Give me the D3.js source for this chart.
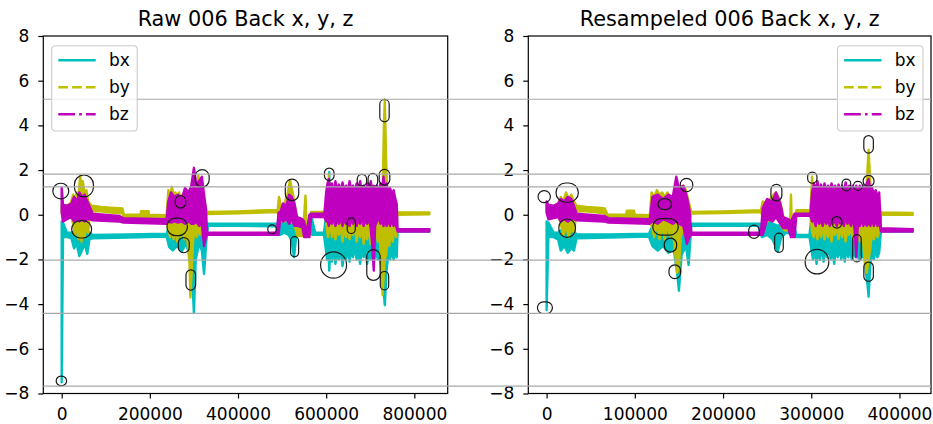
<!DOCTYPE html>
<html>
<head>
<meta charset="utf-8">
<script src="https://cdn.jsdelivr.net/npm/d3@7"></script>
<style>
body { margin: 0; background: #fff; }
svg { display: block; font-family: "DejaVu Sans", sans-serif; }
</style>
</head>
<body>
<svg width="933" height="424"></svg>
<script>
// values: [x, low, high] envelopes of each noisy trace
const rawBx = [
    [0, -7.5, -0.3], [3000, -1.0, -0.35], [12000, -1.0, -0.8], [22000, -1.05, -0.8],
    [28000, -1.5, -0.75], [34000, -1.3, -0.7], [40000, -1.85, -0.6], [46000, -1.6, -0.6],
    [52000, -1.3, -0.7], [58000, -1.75, -0.75], [63000, -1.1, -0.8], [70000, -1.05, -0.9],
    [150000, -1.02, -0.88], [238000, -0.98, -0.85], [244000, -1.45, -0.5], [252000, -1.6, -0.5],
    [262000, -1.4, -0.45], [272000, -1.65, -0.5], [282000, -1.3, -0.5], [290000, -1.8, -0.5],
    [296000, -2.8, -0.5], [300000, -4.4, -0.6], [304000, -2.0, -0.5], [312000, -1.3, -0.5],
    [318000, -1.6, -0.6], [323000, -2.65, -0.6], [328000, -1.2, -0.45], [332000, -0.5, -0.4],
    [400000, -0.5, -0.4], [490000, -0.52, -0.4], [495000, -0.9, -0.4], [505000, -0.8, -0.3],
    [515000, -0.9, -0.4], [522000, -1.2, -0.4], [527000, -1.9, -0.5], [532000, -1.0, -0.4],
    [545000, -0.8, -0.3], [560000, -0.7, -0.3], [568000, -0.9, -0.2], [575000, -0.9, -0.8],
    [595000, -0.9, -0.8], [599000, -1.5, -0.2], [602000, -2.0, -0.4], [605000, -1.4, -0.4],
    [607000, -2.5, 1.9], [609000, -1.6, -0.4], [613000, -2.1, -0.5], [617000, -1.5, -0.5],
    [621000, -2.2, -0.5], [625000, -1.6, -0.5], [629000, -2.0, -0.5], [633000, -1.4, -0.5],
    [637000, -2.3, -0.5], [641000, -1.7, -0.5], [645000, -2.0, -0.5], [649000, -1.5, -0.5],
    [653000, -2.1, -0.5], [657000, -1.6, -0.5], [661000, -1.9, -0.5], [665000, -1.4, -0.5],
    [669000, -2.0, -0.5], [673000, -1.7, -0.5], [677000, -2.2, -0.5], [681000, -1.5, -0.5],
    [685000, -1.9, -0.5], [689000, -1.6, -0.5], [693000, -2.2, -0.5], [697000, -1.7, -0.5],
    [701000, -2.0, -0.5], [705000, -1.5, -0.5], [709000, -2.0, -0.5], [713000, -1.6, -0.5],
    [717000, -2.0, -0.5], [721000, -1.7, -0.5], [725000, -2.4, -0.5], [729000, -3.0, -0.5],
    [733000, -4.05, -0.5], [737000, -2.5, -0.6], [741000, -1.8, -0.5], [745000, -2.0, -0.6],
    [749000, -1.6, -0.5], [753000, -2.0, -0.6], [757000, -1.7, -0.6], [760000, -1.9, -0.6],
    [762000, -0.75, -0.65], [834000, -0.75, -0.65]
];
const rawBy = [
    [0, 0.1, 0.4], [10000, 0.15, 0.4], [20000, 0.05, 0.5], [26000, -0.4, 0.9],
    [30000, -0.9, 0.7], [34000, -0.5, 1.0], [38000, -1.1, 0.8], [42000, -0.6, 1.75],
    [45000, -1.2, 1.2], [48000, -0.6, 1.5], [52000, -1.0, 0.9], [56000, -0.5, 1.1],
    [60000, -0.8, 0.6], [64000, 0.0, 0.5], [68000, 0.15, 0.4], [90000, 0.15, 0.35],
    [110000, 0.1, 0.32], [138000, 0.05, 0.28], [141000, -0.1, 0.0], [179000, -0.1, 0.0],
    [180000, -0.1, 0.16], [197000, -0.1, 0.16], [198000, -0.12, 0.0], [238000, -0.15, -0.02],
    [242000, -0.6, 1.1], [246000, -1.0, 0.8], [250000, -0.4, 1.25], [254000, -1.1, 0.9],
    [258000, -0.5, 1.0], [262000, -1.2, 0.8], [266000, -0.4, 1.0], [270000, -1.0, 0.7],
    [274000, -0.5, 0.9], [278000, -1.1, 0.8], [282000, -0.6, 1.0], [286000, -1.3, 0.8],
    [290000, -2.2, 0.9], [292000, -3.7, 1.0], [295000, -2.5, 0.9], [298000, -1.2, 1.1],
    [302000, -0.6, 1.3], [306000, -1.0, 1.0], [310000, -0.6, 1.75], [314000, -0.9, 1.2],
    [318000, -0.5, 1.0], [322000, -0.8, 0.8], [326000, -0.3, 0.4], [328000, 0.0, 0.2],
    [332000, 0.03, 0.12], [400000, 0.06, 0.15], [490000, 0.12, 0.22], [493000, -0.1, 0.8],
    [498000, 0.0, 0.3], [505000, -0.3, 0.5], [512000, -0.2, 0.9], [518000, 0.2, 1.55],
    [524000, -0.3, 1.0], [530000, -0.6, 0.3], [535000, -0.95, -0.6], [548000, -0.95, -0.7],
    [553000, -0.9, 0.85], [556000, -0.95, -0.7], [562000, -0.95, -0.7], [566000, 0.0, 0.12],
    [598000, 0.0, 0.12], [601000, -0.5, 0.5], [604000, -1.0, 0.6], [606000, -0.7, 1.8],
    [609000, -0.4, 0.5], [613000, -1.0, 0.4], [617000, -0.4, 0.4], [621000, -1.1, 0.4],
    [625000, -0.5, 0.5], [629000, -0.9, 0.5], [633000, -0.4, 0.5], [637000, -1.2, 0.4],
    [641000, -0.5, 0.4], [645000, -1.0, 0.5], [649000, -0.4, 0.4], [653000, -1.1, 0.4],
    [657000, -0.5, 0.5], [661000, -0.9, 0.4], [665000, -0.4, 0.4], [669000, -1.2, 0.4],
    [673000, -0.6, 0.5], [677000, -1.0, 0.4], [681000, -0.4, 0.4], [685000, -1.3, 0.4],
    [689000, -0.6, 0.5], [693000, -1.1, 0.4], [697000, -0.5, 0.4], [701000, -1.3, 0.4],
    [705000, -0.7, 0.4], [709000, -1.0, 0.4], [713000, -0.5, 0.4], [717000, -1.2, 0.4],
    [721000, -0.8, 0.5], [725000, -2.3, 0.5], [728000, -3.6, 0.8], [731000, -2.5, 4.0],
    [733000, -2.0, 5.15], [736000, -1.8, 2.5], [739000, -1.0, 0.5], [743000, -1.4, 0.4],
    [747000, -0.7, 0.4], [751000, -1.2, 0.4], [755000, -0.6, 0.3], [759000, -1.0, 0.3],
    [761000, 0.0, 0.1], [834000, 0.02, 0.1]
];
const rawBz = [
    [0, 0.1, 1.2], [3000, -0.3, 0.45], [12000, -0.2, 0.4], [22000, -0.1, 0.5],
    [28000, -0.3, 0.8], [35000, -0.2, 0.6], [40000, -0.3, 1.0], [46000, -0.2, 0.8],
    [52000, -0.3, 0.9], [58000, -0.2, 0.6], [65000, -0.2, 0.3], [70000, -0.25, 0.05],
    [130000, -0.3, -0.05], [140000, -0.35, -0.15], [238000, -0.4, -0.2], [242000, -0.3, 0.6],
    [248000, -0.35, 1.0], [256000, -0.3, 0.8], [264000, -0.35, 0.9], [272000, -0.3, 0.7],
    [280000, -0.4, 1.2], [288000, -0.3, 1.0], [294000, -0.4, 1.3], [300000, -0.4, 2.1],
    [305000, -0.3, 1.4], [312000, -0.5, 1.5], [318000, -0.4, 1.7], [323000, -1.4, 0.9],
    [327000, -1.0, 0.3], [330000, -0.9, -0.8], [488000, -0.9, -0.8], [492000, -0.9, 0.1],
    [496000, -0.1, 0.1], [502000, -0.3, 0.5], [510000, -0.2, 0.4], [516000, -0.4, 0.9],
    [522000, -0.2, 0.8], [528000, -0.5, 0.5], [534000, -0.5, -0.1], [546000, -0.55, -0.2],
    [550000, -1.0, -0.3], [556000, -1.0, -0.8], [562000, -1.0, 0.0], [566000, -0.1, 0.05],
    [596000, -0.1, 0.05], [600000, -0.3, 1.0], [603000, -0.2, 1.4], [606000, -0.5, 1.6],
    [609000, -0.2, 1.1], [613000, -0.4, 1.4], [617000, -0.1, 1.0], [621000, -0.5, 1.5],
    [625000, -0.2, 1.1], [629000, -0.4, 1.35], [633000, -0.1, 1.0], [637000, -0.5, 1.45],
    [641000, -0.2, 1.05], [645000, -0.4, 1.3], [649000, -0.1, 1.0], [653000, -0.5, 1.5],
    [657000, -0.2, 1.1], [661000, -0.4, 1.3], [665000, -0.1, 1.0], [669000, -0.5, 1.4],
    [673000, -0.2, 1.1], [677000, -0.4, 1.5], [681000, -0.1, 1.0], [685000, -0.5, 1.3],
    [689000, -0.2, 1.0], [693000, -0.4, 1.4], [697000, -0.1, 1.05], [701000, -0.6, 1.5],
    [704000, -1.2, 1.2], [708000, -2.5, 1.3], [711000, -0.5, 1.0], [715000, -0.3, 1.3],
    [719000, -0.1, 1.0], [723000, -0.4, 1.4], [727000, -0.2, 1.1], [730000, -0.5, 1.7],
    [733000, -0.3, 1.2], [737000, -0.5, 1.4], [741000, -0.2, 1.0], [745000, -0.5, 1.2],
    [749000, -0.2, 0.9], [753000, -0.5, 1.1], [757000, -0.3, 0.7], [760000, -0.6, 0.5],
    [762000, -0.75, -0.65], [834000, -0.75, -0.65]
];

const resBx = [
    [0, -4.26, -0.3], [2000, -1.0, -0.35], [8000, -1.0, -0.8], [13000, -1.1, -0.8],
    [16000, -1.6, -0.7], [20000, -1.4, -0.6], [24000, -1.7, -0.6], [28000, -1.5, -0.7],
    [31000, -1.6, -0.75], [34000, -1.05, -0.88], [70000, -1.02, -0.88], [116000, -0.98, -0.85],
    [120000, -1.4, -0.5], [126000, -1.6, -0.45], [132000, -1.4, -0.5], [138000, -1.7, -0.5],
    [144000, -1.5, -0.5], [148000, -2.6, -0.5], [150000, -3.4, -0.6], [153000, -1.8, -0.5],
    [158000, -1.4, -0.5], [161000, -2.25, -0.6], [164000, -0.5, -0.4], [240000, -0.5, -0.4],
    [244000, -1.0, -0.4], [250000, -0.9, -0.3], [256000, -1.1, -0.4], [262000, -1.65, -0.5],
    [266000, -1.0, -0.4], [272000, -0.8, -0.3], [280000, -0.9, -0.3], [283000, -1.0, -0.9],
    [298000, -1.0, -0.9], [300000, -1.5, -0.2], [302000, -2.0, -0.3], [304000, -1.5, -0.4],
    [306000, -2.2, -0.4], [308000, -1.6, -0.5], [310000, -2.0, -0.5], [312000, -1.4, -0.5],
    [314000, -2.1, -0.5], [316000, -1.6, -0.5], [318000, -1.9, -0.5], [320000, -1.4, -0.5],
    [322000, -2.0, -0.5], [324000, -1.6, -0.5], [326000, -2.2, -0.5], [328000, -1.5, -0.5],
    [330000, -1.9, -0.5], [332000, -1.5, -0.5], [334000, -2.0, -0.5], [336000, -1.6, -0.5],
    [338000, -2.1, -0.5], [340000, -1.5, -0.5], [342000, -1.9, -0.5], [344000, -1.6, -0.5],
    [346000, -2.0, -0.5], [348000, -1.5, -0.5], [350000, -1.9, -0.5], [352000, -1.6, -0.5],
    [354000, -2.0, -0.5], [356000, -1.5, -0.5], [358000, -1.9, -0.5], [360000, -1.7, -0.5],
    [362000, -2.6, -0.5], [364000, -3.2, -0.5], [365000, -3.67, -0.5], [367000, -2.2, -0.6],
    [369000, -1.7, -0.5], [371000, -2.0, -0.6], [373000, -1.6, -0.5], [375000, -1.9, -0.6],
    [377000, -1.7, -0.6], [379000, -0.75, -0.65], [415000, -0.75, -0.65]
];
const resBy = [
    [0, 0.1, 0.4], [8000, 0.1, 0.4], [13000, 0.05, 0.5], [16000, -0.4, 0.8],
    [19000, -0.9, 0.6], [22000, -0.5, 1.0], [25000, -1.0, 0.7], [28000, -0.6, 0.9],
    [31000, -0.8, 0.6], [34000, 0.15, 0.4], [45000, 0.15, 0.35], [58000, 0.1, 0.32],
    [66000, 0.05, 0.28], [69000, -0.1, 0.0], [90000, -0.1, 0.0], [91000, -0.1, 0.18],
    [99000, -0.1, 0.18], [100000, -0.12, 0.0], [117000, -0.15, -0.02], [119000, -0.5, 1.0],
    [122000, -1.0, 0.8], [125000, -0.4, 1.1], [128000, -1.1, 0.9], [131000, -0.5, 1.0],
    [134000, -1.1, 0.8], [137000, -0.4, 1.0], [140000, -1.0, 0.7], [143000, -0.6, 0.8],
    [146000, -1.8, 0.9], [148000, -2.6, 1.0], [150000, -2.4, 1.0], [152000, -1.0, 1.2],
    [155000, -0.6, 1.3], [158000, -0.9, 1.1], [161000, -0.4, 0.6], [164000, 0.05, 0.12],
    [200000, 0.08, 0.15], [243000, 0.12, 0.2], [245000, -0.1, 0.6], [250000, -0.3, 0.5],
    [255000, -0.2, 0.8], [260000, 0.1, 1.0], [264000, -0.3, 0.7], [267000, -0.6, 0.2],
    [270000, -0.7, -0.45], [276000, -0.7, -0.45], [277000, -0.6, 0.9], [278000, -0.7, -0.45],
    [281000, -0.7, -0.45], [283000, 0.05, 0.2], [299000, 0.05, 0.2], [301000, -0.8, 1.7],
    [303000, -1.0, 0.5], [305000, -0.4, 0.5], [307000, -1.1, 0.5], [309000, -0.5, 0.5],
    [311000, -1.0, 0.5], [313000, -0.4, 0.5], [315000, -1.1, 0.4], [317000, -0.6, 0.5],
    [319000, -1.0, 0.4], [321000, -0.4, 0.5], [323000, -1.2, 0.4], [325000, -0.6, 0.5],
    [327000, -0.9, 0.4], [329000, -0.4, 0.5], [331000, -1.1, 0.4], [333000, -0.5, 0.5],
    [335000, -1.0, 0.4], [337000, -0.4, 0.4], [339000, -1.2, 0.4], [341000, -0.6, 0.5],
    [343000, -0.9, 0.4], [345000, -0.4, 0.4], [347000, -1.1, 0.4], [349000, -0.6, 0.4],
    [351000, -1.0, 0.4], [353000, -0.5, 0.4], [355000, -1.2, 0.4], [357000, -0.7, 0.4],
    [359000, -1.3, 0.5], [361000, -2.2, 0.5], [363000, -2.6, 1.5], [365000, -2.0, 2.9],
    [367000, -1.5, 1.4], [369000, -0.7, 0.4], [371000, -1.1, 0.4], [373000, -0.6, 0.3],
    [375000, -1.0, 0.3], [377000, -0.7, 0.3], [379000, 0.0, 0.1], [415000, 0.0, 0.08]
];
const resBz = [
    [0, 0.1, 0.6], [2000, -0.2, 0.45], [8000, -0.15, 0.4], [13000, -0.1, 0.5],
    [16000, -0.3, 0.7], [20000, -0.2, 0.6], [24000, -0.3, 0.8], [28000, -0.2, 0.7],
    [31000, -0.2, 0.4], [34000, -0.25, 0.05], [65000, -0.3, -0.05], [70000, -0.35, -0.15],
    [117000, -0.4, -0.2], [120000, -0.3, 0.8], [126000, -0.4, 0.9], [132000, -0.2, 0.7],
    [138000, -0.3, 0.9], [143000, -0.4, 0.8], [147000, -0.3, 1.7], [150000, -0.4, 1.2],
    [155000, -0.5, 1.3], [159000, -1.3, 0.8], [162000, -1.0, 0.2], [164000, -0.9, -0.8],
    [243000, -0.9, -0.8], [245000, -0.9, 0.3], [250000, -0.2, 0.7], [256000, -0.3, 0.6],
    [260000, -0.1, 1.0], [265000, -0.4, 0.5], [268000, -0.6, -0.1], [274000, -0.6, -0.2],
    [277000, -1.0, -0.3], [281000, -1.0, 0.05], [283000, -0.05, 0.05], [299000, -0.05, 0.05],
    [301000, -0.3, 1.0], [303000, -0.2, 1.4], [305000, -0.5, 1.1], [307000, -0.1, 1.5],
    [309000, -0.4, 1.0], [311000, -0.2, 1.35], [313000, -0.5, 1.0], [315000, -0.1, 1.4],
    [317000, -0.4, 1.05], [319000, -0.2, 1.3], [321000, -0.5, 1.0], [323000, -0.1, 1.4],
    [325000, -0.4, 1.1], [327000, -0.2, 1.3], [329000, -0.5, 1.0], [331000, -0.1, 1.35],
    [333000, -0.4, 1.0], [335000, -0.2, 1.3], [337000, -0.5, 1.0], [339000, -0.1, 1.45],
    [341000, -0.4, 1.05], [343000, -0.2, 1.3], [345000, -0.5, 1.0], [347000, -0.1, 1.3],
    [349000, -0.6, 1.0], [351000, -1.9, 1.3], [353000, -0.3, 1.0], [355000, -0.5, 1.3],
    [357000, -0.2, 1.0], [359000, -0.5, 1.3], [361000, -0.3, 1.0], [363000, -0.5, 1.4],
    [365000, -0.3, 1.6], [367000, -0.5, 1.1], [369000, -0.2, 1.2], [371000, -0.5, 0.9],
    [373000, -0.2, 1.1], [375000, -0.5, 0.8], [377000, -0.3, 1.0], [379000, -0.75, -0.6],
    [415000, -0.75, -0.65]
];

// outlier rings, bounds in data units: [xLo, xHi, yLo, yHi]
const rawRings = [
    [-20100, 16100, 0.71, 1.41], [29000, 72000, 0.80, 1.78], [22650, 67950, -1.04, -0.26],
    [257500, 281500, 0.30, 0.86], [238700, 285300, -0.93, -0.15], [264500, 289500, -1.70, -1.02],
    [282000, 303800, -3.37, -2.47], [302850, 334550, 1.24, 2.02], [-12500, 11100, -7.65, -7.22],
    [467500, 486900, -0.85, -0.45], [507300, 537700, 0.63, 1.59], [519300, 537500, -1.88, -0.98],
    [596100, 617900, 1.53, 2.09], [587400, 646200, -2.84, -1.66], [647800, 666000, -0.84, -0.14],
    [670500, 691700, 1.29, 1.81], [695100, 716900, 1.25, 1.85], [692100, 722500, -2.94, -1.56],
    [720300, 744300, 1.33, 2.03], [722800, 741800, -3.36, -2.54], [721650, 742950, 4.16, 5.16]
];
const resRings = [
    [-9720, 4320, 0.54, 1.08], [10620, 35980, 0.56, 1.42], [13900, 32700, -1.01, -0.19],
    [-10400, 6600, -4.42, -3.90], [126400, 141600, 0.23, 0.71], [120300, 149300, -0.91, -0.17],
    [133400, 147400, -1.67, -1.05], [138700, 151900, -2.86, -2.24], [151500, 165700, 1.03, 1.63],
    [229100, 241100, -1.06, -0.46], [254300, 266700, 0.62, 1.36], [258500, 268300, -1.68, -0.82],
    [295900, 306500, 1.41, 1.91], [293100, 319900, -2.65, -1.55], [323400, 334800, -0.60, -0.08],
    [334900, 344700, 1.07, 1.59], [347800, 358000, 1.09, 1.49], [347000, 356600, -2.11, -0.89],
    [358800, 371200, 1.26, 1.76], [359600, 370400, -2.98, -2.12], [359600, 370400, 2.76, 3.54]
];

const seriesNames = ["bx", "by", "bz"];
const yTicks = [-8, -6, -4, -2, 0, 2, 4, 6, 8];
const rawXTicks = [0, 200000, 400000, 600000, 800000];
const resXTicks = [0, 100000, 200000, 300000, 400000];
const guideLevels = [5.17, 1.82, 1.25, -2.03, -4.41, -7.67];

const colors = { bx: "#00bfbf", by: "#bfbf00", bz: "#bf00bf" };
const dashes = { bx: null, by: "9.6,4.2", bz: "16.7,4.2,2.6,4.2" };

const svg = d3.select("svg");
const plotTop = 36, plotBottom = 393.5;
const y = d3.scaleLinear().domain([-8, 8]).range([plotBottom, plotTop]);

const panels = [
    { title: "Raw 006 Back x, y, z", left: 43.3, right: 447.7, ticks: rawXTicks,
      series: [rawBx, rawBy, rawBz], rings: rawRings, legendX: 51.7 },
    { title: "Resampeled 006 Back x, y, z", left: 528.3, right: 931, ticks: resXTicks,
      series: [resBx, resBy, resBz], rings: resRings, legendX: 837.5 }
];

const minus = d => d < 0 ? "\u2212" + Math.abs(d) : String(d);

panels.forEach((p, i) => {
    // matplotlib style 5% margins around the data extent
    const ext = d3.extent(p.series.flat(), d => d[0]);
    const pad = (ext[1] - ext[0]) * 0.05;
    p.x = d3.scaleLinear().domain([ext[0] - pad, ext[1] + pad]).range([p.left, p.right]);

    svg.append("clipPath").attr("id", "clip" + i)
        .append("rect")
        .attr("x", p.left).attr("y", plotTop)
        .attr("width", p.right - p.left).attr("height", plotBottom - plotTop);

    const plot = svg.append("g").attr("clip-path", `url(#clip${i})`);

    const area = d3.area()
        .x(d => p.x(d[0]))
        .y0(d => y(d[1]))
        .y1(d => y(d[2]));

    p.series.forEach((s, k) => {
        const c = colors[seriesNames[k]];
        plot.append("path")
            .datum(s)
            .attr("d", area)
            .attr("fill", c)
            .attr("stroke", c)
            .attr("stroke-width", 2.4)
            .attr("stroke-linejoin", "round");
    });

    plot.selectAll(".ring")
        .data(p.rings)
        .enter().append("rect")
        .attr("class", "ring")
        .attr("x", d => p.x(d[0]))
        .attr("y", d => y(d[3]))
        .attr("width", d => p.x(d[1]) - p.x(d[0]))
        .attr("height", d => y(d[2]) - y(d[3]))
        .attr("rx", d => Math.min(p.x(d[1]) - p.x(d[0]), y(d[2]) - y(d[3])) / 2)
        .attr("fill", "none")
        .attr("stroke", "#1a1a1a")
        .attr("stroke-width", 1.2);

    // axes
    const xAxis = svg.append("g")
        .attr("transform", `translate(0,${plotBottom})`)
        .call(d3.axisBottom(p.x).tickValues(p.ticks).tickSize(5).tickPadding(9).tickFormat(d => d));
    const yAxis = svg.append("g")
        .attr("transform", `translate(${p.left},0)`)
        .call(d3.axisLeft(y).tickValues(yTicks).tickSize(5).tickPadding(9).tickFormat(minus));
    [xAxis, yAxis].forEach(a => {
        a.select(".domain").remove();
        a.selectAll("line").attr("stroke", "#000").attr("stroke-width", 1.2);
        a.selectAll("text").attr("fill", "#000")
            .style("font-size", "17px").style("font-family", "DejaVu Sans, sans-serif");
    });

    svg.append("rect")
        .attr("x", p.left).attr("y", plotTop)
        .attr("width", p.right - p.left).attr("height", plotBottom - plotTop)
        .attr("fill", "none").attr("stroke", "#000").attr("stroke-width", 1.2);

    svg.append("text")
        .attr("x", (p.left + p.right) / 2)
        .attr("y", 26)
        .attr("text-anchor", "middle")
        .style("font-size", "20.8px")
        .text(p.title);
});

// figure-wide reference lines
svg.append("g")
    .selectAll("line")
    .data(guideLevels)
    .enter().append("line")
    .attr("x1", panels[0].left)
    .attr("x2", panels[1].right)
    .attr("y1", d => y(d))
    .attr("y2", d => y(d))
    .attr("stroke", "#a9a9a9")
    .attr("stroke-width", 1.2);

// legends
panels.forEach(p => {
    const lg = svg.append("g").attr("transform", `translate(${p.legendX},45.7)`);
    lg.append("rect")
        .attr("width", 85.5).attr("height", 85.3).attr("rx", 3.5)
        .attr("fill", "#fff").attr("fill-opacity", 0.8)
        .attr("stroke", "#cccccc").attr("stroke-width", 1.1);
    seriesNames.forEach((name, k) => {
        const ly = 14.6 + k * 27;
        lg.append("line")
            .attr("x1", 6.6).attr("x2", 44)
            .attr("y1", ly).attr("y2", ly)
            .attr("stroke", colors[name])
            .attr("stroke-width", 2.6)
            .attr("stroke-dasharray", dashes[name]);
        lg.append("text")
            .attr("x", 57.3).attr("y", ly + 6.2)
            .style("font-size", "17px")
            .text(name);
    });
});
</script>
</body>
</html>
